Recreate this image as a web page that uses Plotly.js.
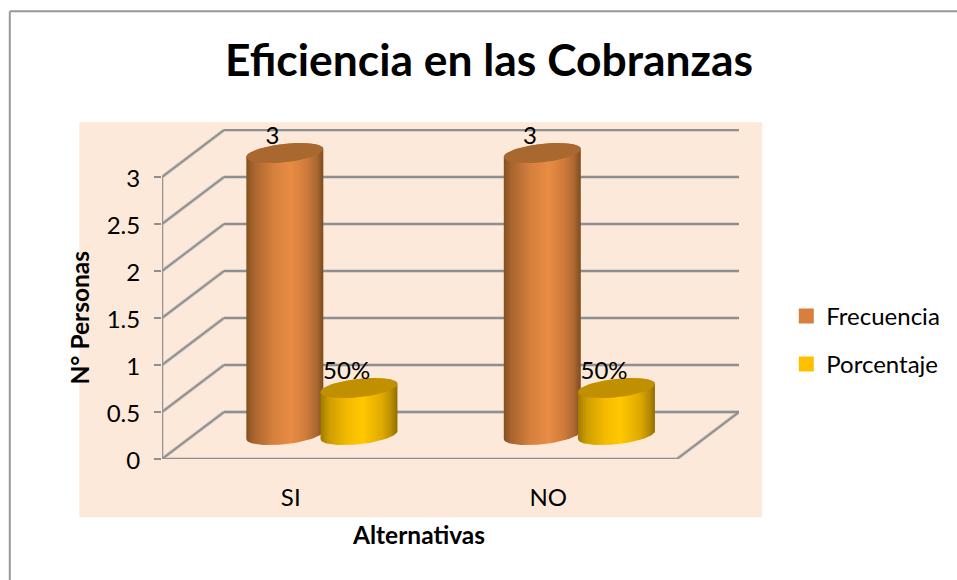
<!DOCTYPE html>
<html>
<head>
<meta charset="utf-8">
<script src="https://cdn.plot.ly/plotly-3.0.1.min.js"></script>
<style>html,body{margin:0;padding:0;background:#fff}</style>
</head>
<body>
<div id="chart" style="width:957px;height:580px"></div>
<script>
// ---- data ----
const categories = ['SI', 'NO'];
const frecuencia = [3, 3];
const porcentaje = [0.5, 0.5];
const frecuenciaLabels = ['3', '3'];
const porcentajeLabels = ['50%', '50%'];
const yTicks = [0, 0.5, 1, 1.5, 2, 2.5, 3];
const yTickLabels = ['0', '0.5', '1', '1.5', '2', '2.5', '3'];

// ---- fake 3-D geometry, in axis units ----
const depthX = 0.241, depthY = 0.5;         // wall depth
const midY = 0.255;                         // where the cylinders stand
const frecOffset = -0.023, porcOffset = 0.265;
const radX = 0.1495, radY = 0.098, tilt = 0.043;
const labelDX = -0.048, labelDY = 0.158;
const GRAY = '#8f8f8f', SHADOW = '#cfcac5', FONT = 'Lato, Carlito, sans-serif';
const TXT = {family: FONT, size: 24, color: '#000'};
const TTL = {family: FONT, size: 24.5, color: '#000'};

const ellipse = (cx, cy, t) => [cx + radX * Math.cos(t), cy + tilt * Math.cos(t) + radY * Math.sin(t)];
const N = 48;
function topEllipse(cx, cy) {
  const xs = [], ys = [];
  for (let k = 0; k <= N; k++) { const p = ellipse(cx, cy, 2 * Math.PI * k / N); xs.push(p[0]); ys.push(p[1]); }
  return [xs, ys];
}
function silhouette(cx, y0, y1) {
  const xs = [], ys = [];
  for (let k = 0; k <= N; k++) { const p = ellipse(cx, y0, Math.PI + Math.PI * k / N); xs.push(p[0]); ys.push(p[1]); }
  for (let k = 0; k <= N; k++) { const p = ellipse(cx, y1, Math.PI * k / N); xs.push(p[0]); ys.push(p[1]); }
  xs.push(xs[0]); ys.push(ys[0]);
  return [xs, ys];
}

const traces = [];
// walls, floor and front axes
const xL = -0.5, xR = 1.5;
const wallSegs = [];
yTicks.concat([3 + depthY]).forEach(function (v, i) {
  if (i < yTicks.length) wallSegs.push([[xL, xL + depthX], [v, v + depthY]]);
  if (v >= depthY) wallSegs.push([[xL + depthX, xR + depthX], [v, v]]);
});
wallSegs.push([[xL + depthX, xR + depthX, xR, xL], [depthY, depthY, 0, 0]]);
wallSegs.push([[xL, xL], [3, 0]]);
[[SHADOW, 3.5], [GRAY, 1.8]].forEach(function (st) {
  wallSegs.forEach(function (s) {
    traces.push({type: 'scatter', mode: 'lines', x: s[0], y: s[1], showlegend: false,
      hoverinfo: 'skip', line: {color: st[0], width: st[1]}});
  });
});

// bars: carry the values and the legend, sit inside the cylinders
function barTrace(name, values, off, color) {
  return {type: 'bar', name: name, legendgroup: name, x: categories.map((c, i) => i + off), y: values,
    base: values.map(() => midY), width: 0.22, hoverinfo: 'skip',
    marker: {color: color, line: {color: color, width: 3}}};
}
traces.push(barTrace('Frecuencia', frecuencia, frecOffset, '#d97f3e'));
traces.push(barTrace('Porcentaje', porcentaje, porcOffset, '#ffc000'));

// cylinders
const frecScale = [[0, '#85501f'], [0.1, '#a9652e'], [0.35, '#d5803d'], [0.58, '#e98c44'], [0.78, '#cf7b3b'], [0.92, '#a96630'], [1, '#7d4a1e']];
const porcScale = [[0, '#a07a00'], [0.12, '#cf9f00'], [0.35, '#f5ba00'], [0.55, '#ffc800'], [0.8, '#dfaa00'], [0.93, '#b58a00'], [1, '#8f6e00']];
function cylinder(cx, value, scale, topColor) {
  const s = silhouette(cx, midY, midY + value);
  traces.push({type: 'scatter', mode: 'lines', x: s[0], y: s[1], fill: 'toself', showlegend: false,
    hoverinfo: 'skip', line: {width: 0}, fillgradient: {type: 'horizontal', colorscale: scale}});
  const e = topEllipse(cx, midY + value);
  traces.push({type: 'scatter', mode: 'lines', x: e[0], y: e[1], fill: 'toself', showlegend: false,
    hoverinfo: 'skip', line: {width: 0}, fillcolor: topColor});
}
categories.forEach(function (c, i) {
  cylinder(i + frecOffset, frecuencia[i], frecScale, '#a9682f');
  cylinder(i + porcOffset, porcentaje[i], porcScale, '#c09000');
});

// value labels
function valueLabels(values, labels, off) {
  traces.push({type: 'scatter', mode: 'text', showlegend: false, hoverinfo: 'skip', cliponaxis: false,
    x: values.map((v, i) => i + off + labelDX), y: values.map(v => midY + v + labelDY),
    text: labels, textposition: 'middle center', textfont: TXT});
}
valueLabels(frecuencia, frecuenciaLabels, frecOffset);
valueLabels(porcentaje, porcentajeLabels, porcOffset);

const pW = 577, pH = 330, pL = 161.7, pB = 458.7;
const px = v => (v - pL) / pW, py = v => (pB - v) / pH;
const layout = {
  width: 957, height: 580,
  margin: {l: pL, r: 957 - pL - pW, t: pB - pH, b: 580 - pB, pad: 0},
  paper_bgcolor: '#fff', plot_bgcolor: 'rgba(0,0,0,0)',
  barmode: 'overlay', hovermode: false, showlegend: true,
  title: {text: '<b>Eficiencia en las Cobranzas</b>', x: 489 / 957, y: 1 - 60 / 580, xanchor: 'center', yanchor: 'middle',
    font: {family: FONT, size: 44.4, color: '#000'}},
  xaxis: {type: 'linear', range: [xL, xR + depthX], tickmode: 'array', tickvals: categories.map((c, i) => i), ticktext: categories,
    showgrid: false, zeroline: false, showline: false, ticks: '', ticklabelstandoff: 22, tickfont: TXT},
  yaxis: {range: [0, 3 + depthY + 0.0106], tickmode: 'array', tickvals: yTicks, ticktext: yTickLabels,
    showgrid: false, zeroline: false, showline: false,
    ticks: 'outside', ticklen: 7, tickwidth: 2, tickcolor: GRAY, ticklabelstandoff: 9, ticklabelshift: 2, tickfont: TXT},
  legend: {x: px(786), y: py(293.5), xanchor: 'left', yanchor: 'top', tracegroupgap: 14, bgcolor: 'rgba(0,0,0,0)',
    font: TXT, itemclick: false, itemdoubleclick: false},
  annotations: [
    {xref: 'paper', yref: 'paper', x: px(418.5), y: py(534), text: '<b>Alternativas</b>', showarrow: false,
      xanchor: 'center', yanchor: 'middle', font: TTL},
    {xref: 'paper', yref: 'paper', x: px(79), y: py(317), text: '<b>N° Personas</b>', showarrow: false, textangle: -90,
      xanchor: 'center', yanchor: 'middle', font: TTL}
  ],
  shapes: [
    {type: 'rect', xref: 'paper', yref: 'paper', layer: 'below', x0: px(79), x1: px(762), y0: py(122), y1: py(517),
      fillcolor: '#fde9d9', line: {width: 0}},
    {type: 'line', xref: 'paper', yref: 'paper', layer: 'below', x0: px(9.5), x1: px(957), y0: py(11), y1: py(11), line: {color: '#999', width: 2}},
    {type: 'line', xref: 'paper', yref: 'paper', layer: 'below', x0: px(9.5), x1: px(9.5), y0: py(11), y1: py(580), line: {color: '#999', width: 2}}
  ]
};
Plotly.newPlot('chart', traces, layout, {displayModeBar: false});
</script>
</body>
</html>
